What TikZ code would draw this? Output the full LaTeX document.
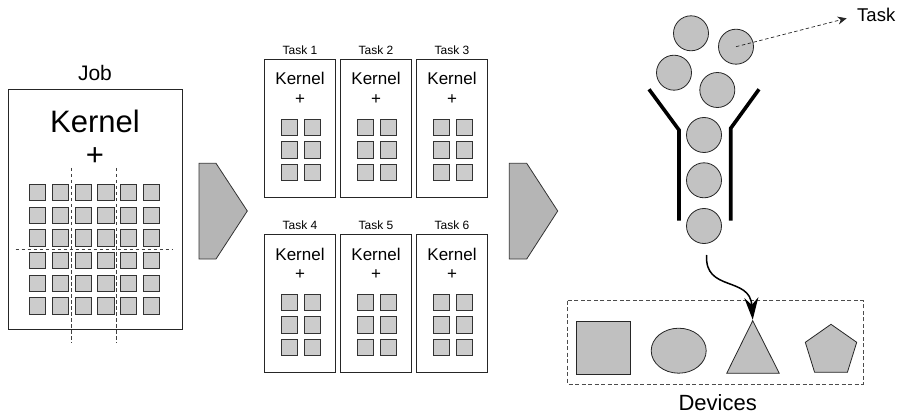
\documentclass[tikz,border=0pt]{standalone}
\usepackage{fontspec}
\setmainfont{Liberation Sans}
\usetikzlibrary{arrows.meta,shapes.geometric}
\definecolor{cellgray}{HTML}{CCCCCC}
\definecolor{ballgray}{HTML}{C2C2C2}
\definecolor{chevgray}{HTML}{B5B5B5}
\definecolor{devgray}{HTML}{C0C0C0}
\newcommand{\fs}[1]{\fontsize{#1}{#1}\selectfont}
\begin{document}
\begin{tikzpicture}[x=1pt,y=-1pt,
  docbox/.style={draw=black!85,line width=0.8pt,fill=white},
  cell/.style={draw=black!80,fill=cellgray,line width=0.8pt},
  chev/.style={draw=black!80,fill=chevgray,line width=0.8pt},
  ball/.style={circle,draw=black!85,fill=ballgray,line width=0.8pt,minimum size=35pt,inner sep=0pt},
  splitline/.style={draw=black!75,line width=0.6pt,dash pattern=on 3.5pt off 2.5pt},
  funnel/.style={line width=3.6pt,black},
  devshape/.style={draw=black!85,fill=devgray,line width=0.8pt},
  lbl/.style={anchor=base,inner sep=0pt}]
\useasboundingbox (0,0) rectangle (902,414);

% ---- Job ----
\draw[docbox] (8,89) rectangle (182,329);
\node[lbl,font=\fs{21}] (job) at (95,81) {Job};
\node[lbl,font=\fs{31}] (jobkernel) at (95,133) {Kernel};
\node[font=\fs{31},inner sep=0pt] (jobplus) at (95,156.5) {+};
\foreach \i in {0,...,5}{
  \foreach \j in {0,...,5}{
    \draw[cell] ({29.3+22.8*\i},{184.3+22.7*\j}) rectangle ++(16.3,16.3);
  }
}
\draw[splitline] (71,168) -- (71,343);
\draw[splitline] (116.7,168) -- (116.7,343);
\draw[splitline] (15.7,249.3) -- (172.7,249.3);

% ---- chevrons ----
\draw[chev] (199,163.3) -- (216,163.3) -- (247.3,211) -- (216,259) -- (199,259) -- cycle;
\draw[chev] (509.3,163.3) -- (526.7,163.3) -- (557.7,211) -- (526.7,259) -- (509.3,259) -- cycle;

% ---- tasks ----
\foreach \cx/\lx/\rx/\n/\row in {300/264.3/335.7/1/0, 376/340.7/411.3/2/0, 452/416.7/487.3/3/0,
                                  300/264.3/335.7/4/1, 376/340.7/411.3/5/1, 452/416.7/487.3/6/1}{
  \pgfmathsetmacro{\dy}{175*\row}
  \draw[docbox] (\lx,{59.3+\dy}) rectangle (\rx,{197.7+\dy});
  \node[lbl,font=\fs{12}] (tlabel\n) at (\cx,{54.3+\dy}) {Task \n};
  \node[lbl,font=\fs{17}] (tkernel\n) at (\cx,{85+\dy}) {Kernel};
  \node[font=\fs{17},inner sep=0pt] (tplus\n) at (\cx,{100+\dy}) {+};
  \foreach \ry in {119.3,141.7,164.3}{
    \draw[cell] ({\cx-19},{\ry+\dy}) rectangle ++(16.3,16.3);
    \draw[cell] ({\cx+4},{\ry+\dy}) rectangle ++(16.3,16.3);
  }
}

% ---- funnel and balls ----
\node[ball] (c1) at (691,33.3) {};
\node[ball] (c2) at (736,46.7) {};
\node[ball] (c3) at (674,72.7) {};
\node[ball] (c4) at (717.3,90) {};
\node[ball] (c5) at (704,135) {};
\node[ball] (c6) at (704,180.3) {};
\node[ball] (c7) at (704,226) {};
\draw[funnel] (649,89.3) -- (679,130) -- (679,220.7);
\draw[funnel] (759,89.3) -- (730.7,128.3) -- (730.7,220.7);

\node[anchor=base west,inner sep=0pt,font=\fs{18.5}] (tasktxt) at (857,21.7) {Task};
\draw[black!85,line width=0.7pt,dash pattern=on 3.5pt off 2.5pt,-{Stealth[length=9pt,width=8pt]}]
  (c2.center) -- (846.7,18.3);

% ---- devices ----
\draw[black!70,line width=0.8pt,dash pattern=on 4pt off 2.5pt] (567.3,300.7) rectangle (863.3,384);
\draw[devshape] (576.7,321.3) rectangle (630,374.3);
\draw[devshape] (678.7,350.7) ellipse [x radius=27.5,y radius=22.5];
\coordinate (tritop) at (752.7,320.7);
\draw[devshape] (tritop) -- (779.3,373.3) -- (726.7,373.3) -- cycle;
\draw[devshape] (831,324.3) -- (856.7,342.3) -- (847.4,372.3) -- (814.6,372.3) -- (805.3,342.3) -- cycle;
\node[lbl,font=\fs{22}] (devices) at (717.7,410.5) {Devices};

\coordinate (flowstart) at (706.7,255);
\draw[black,line width=1.5pt,-{Stealth[length=22pt,width=14pt]}]
  (flowstart) .. controls (704,292) and (750,276) .. ([yshift=1pt]tritop);
\end{tikzpicture}
\end{document}
